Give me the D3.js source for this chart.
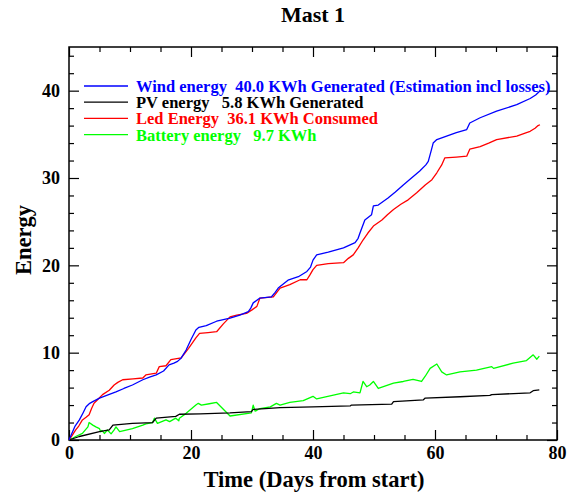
<!DOCTYPE html>
<html>
<head>
<meta charset="utf-8">
<script src="https://cdn.jsdelivr.net/npm/d3@7"></script>
<style>
  body { margin: 0; background: #fff; }
  text { font-family: "Liberation Serif", "DejaVu Serif", serif; font-weight: bold; }
</style>
</head>
<body>
<div id="chart"></div>
<script>
// series as [day, kWh] pairs
const windEnergy = [[0,0],[0.5,0.8],[1,1.6],[1.7,2.3],[2.3,3.1],[2.8,3.8],[3.4,4.2],[3.9,4.4],[5,4.8],[6.5,5.2],[7.7,5.5],[9,5.9],[10.4,6.3],[12.1,6.9],[13.2,7.2],[14.3,7.45],[15.5,7.9],[16.4,8.6],[17.2,8.8],[17.8,9.0],[18.4,9.4],[19.2,10.3],[20,11.5],[20.8,12.6],[21.3,12.9],[22.5,13.1],[24.2,13.6],[26.4,13.95],[28,14.3],[29.4,14.7],[29.8,15.1],[30.2,15.7],[31.3,16.25],[33.2,16.4],[33.8,16.9],[34.3,17.4],[35.9,18.3],[37.6,18.7],[39,19.3],[39.6,19.8],[40,20.6],[40.6,21.2],[42.5,21.5],[45,22.0],[46.9,22.6],[47.4,23.1],[47.7,23.7],[48.5,25.2],[49.6,25.8],[49.9,26.8],[50.7,26.9],[52.3,27.7],[53.5,28.4],[54.8,29.2],[56,29.9],[57.5,30.8],[58.5,31.5],[58.9,31.9],[59.4,33.2],[59.7,34.0],[60.3,34.4],[61.9,34.8],[63.5,35.2],[65.2,35.55],[65.7,36.3],[67.4,36.9],[70.1,37.65],[73.4,38.4],[75.6,39.1],[76.5,39.5],[77.2,39.95],[77.4,40.0]];

const pvEnergy = [[0,0],[1.7,0.4],[5,0.95],[6.6,1.15],[7.2,1.7],[10.4,1.9],[13.7,2.0],[14.3,2.5],[17.5,2.7],[18.1,2.95],[21.5,3.0],[26.4,3.1],[29.9,3.25],[30.2,3.5],[34.6,3.7],[40,3.8],[46.1,3.9],[46.3,4.0],[52.9,4.1],[53.2,4.4],[58.1,4.6],[58.4,4.8],[64.1,4.95],[69,5.1],[69.3,5.2],[75.6,5.4],[76.1,5.65],[77.1,5.75]];

const ledEnergy = [[0,0],[0.5,0.5],[1.1,1.15],[1.6,1.6],[2.2,2.3],[2.8,2.6],[3.3,2.9],[3.7,3.6],[4.1,4.2],[4.8,4.7],[5.5,5.2],[6.6,5.7],[7.4,6.3],[8.0,6.6],[8.8,6.9],[10.5,7.0],[12.1,7.1],[12.6,7.45],[14.3,7.65],[14.8,8.4],[15.9,8.5],[16.7,9.2],[18.4,9.4],[19.6,10.5],[20.8,11.7],[21.4,12.2],[22.8,12.3],[24.2,12.4],[25.3,13.3],[26.4,14.1],[27.5,14.3],[29.1,14.5],[30.0,14.9],[30.8,15.3],[31.3,16.25],[33.5,16.4],[34.6,17.4],[36.2,17.8],[37.9,18.35],[39.0,18.35],[39.5,18.9],[40,19.5],[40.6,20.0],[42.5,20.2],[45,20.3],[45.8,20.8],[46.6,21.2],[47.4,22.0],[48.2,22.9],[49.0,23.7],[49.9,24.5],[51.3,25.2],[52.2,25.8],[53.2,26.4],[54.4,27.0],[55.6,27.5],[57,28.3],[58.4,29.2],[59.5,29.8],[60.3,30.6],[61.1,31.5],[61.6,32.3],[63.5,32.4],[65.2,32.5],[65.7,33.3],[67.4,33.6],[68.8,34.0],[70.1,34.4],[73.4,34.8],[75,35.2],[75.6,35.35],[76.4,35.7],[76.9,36.0],[77.2,36.1]];

const batteryEnergy = [[0,0],[0.6,0.2],[1.1,0.4],[2.2,0.75],[3.1,1.5],[3.3,2.0],[3.9,1.7],[4.4,1.5],[5.0,1.3],[5.2,0.95],[5.4,1.1],[5.8,0.75],[6.3,1.15],[6.9,0.7],[7.4,1.15],[7.7,1.5],[8.3,0.95],[10.4,1.3],[12.1,1.7],[12.6,1.85],[13.7,2.0],[14,2.5],[14.5,1.9],[15.9,2.3],[16.5,2.1],[17.5,2.5],[18,2.2],[18.1,2.5],[19.2,3.05],[20.8,4.0],[21.2,4.2],[21.7,4.0],[23,4.15],[24.2,4.3],[26.4,2.75],[29.9,3.1],[30.2,4.0],[30.5,3.3],[30.8,3.4],[31.3,3.6],[33,3.8],[34,4.2],[34.6,4.0],[36.2,4.3],[38.4,4.5],[40,5.0],[40.6,4.7],[45,5.4],[46.1,5.3],[46.6,5.5],[47.7,5.4],[48.2,6.7],[48.8,6.1],[49.3,6.3],[49.9,6.7],[50.7,5.9],[53.2,6.5],[54.8,6.7],[56.4,6.95],[57.8,6.7],[58.4,7.3],[59.2,8.2],[60.3,8.7],[61.1,7.8],[61.9,7.45],[64.1,7.8],[66.8,8.0],[69.3,8.4],[69.6,8.2],[72.8,8.8],[75,9.1],[76.1,9.75],[76.7,9.25],[77.1,9.6]];

const seriesNames = ["Wind energy  40.0 KWh Generated (Estimation incl losses)", "PV energy   5.8 KWh Generated", "Led Energy  36.1 KWh Consumed", "Battery energy   9.7 KWh"];
const seriesColors = ["#0000ff", "#000000", "#ff0000", "#00ff00"];
const seriesData = [windEnergy, pvEnergy, ledEnergy, batteryEnergy];

const xMajorTicks = [0, 20, 40, 60, 80];
const yMajorTicks = [0, 10, 20, 30, 40];

const width = 570, height = 493;
const plotLeft = 69, plotRight = 557, plotTop = 47, plotBottom = 440;

const svg = d3.select("#chart").append("svg")
    .attr("width", width)
    .attr("height", height);

const x = d3.scaleLinear().domain([0, 80]).range([plotLeft, plotRight]);
const y = d3.scaleLinear().domain([0, 45]).range([plotBottom, plotTop]);

const xMinor = d3.range(0, 81, 5).filter(d => d % 20 != 0);
const yMinor = d3.range(0, 45, 2).filter(d => d % 10 != 0);

function styleAxis(g) {
    g.select(".domain").remove();
    g.selectAll("line").attr("stroke", "#000").attr("stroke-width", 1.2);
    g.selectAll("text").attr("fill", "#000").style("font-size", "18px")
        .style("font-family", '"Liberation Serif", serif').style("font-weight", "bold");
}

// bottom
svg.append("g").attr("transform", `translate(0,${plotBottom})`)
    .call(d3.axisBottom(x).tickValues(xMajorTicks).tickSize(-10).tickPadding(6).tickFormat(d3.format("d")))
    .call(styleAxis);
svg.append("g").attr("transform", `translate(0,${plotBottom})`)
    .call(d3.axisBottom(x).tickValues(xMinor).tickSize(-5).tickFormat(""))
    .call(styleAxis);
// top
svg.append("g").attr("transform", `translate(0,${plotTop})`)
    .call(d3.axisTop(x).tickValues(xMajorTicks).tickSize(-10).tickFormat(""))
    .call(styleAxis);
svg.append("g").attr("transform", `translate(0,${plotTop})`)
    .call(d3.axisTop(x).tickValues(xMinor).tickSize(-5).tickFormat(""))
    .call(styleAxis);
// left
svg.append("g").attr("transform", `translate(${plotLeft},0)`)
    .call(d3.axisLeft(y).tickValues(yMajorTicks).tickSize(-10).tickPadding(9).tickFormat(d3.format("d")))
    .call(styleAxis);
svg.append("g").attr("transform", `translate(${plotLeft},0)`)
    .call(d3.axisLeft(y).tickValues(yMinor).tickSize(-5).tickFormat(""))
    .call(styleAxis);
// right
svg.append("g").attr("transform", `translate(${plotRight},0)`)
    .call(d3.axisRight(y).tickValues(yMajorTicks).tickSize(-10).tickFormat(""))
    .call(styleAxis);
svg.append("g").attr("transform", `translate(${plotRight},0)`)
    .call(d3.axisRight(y).tickValues(yMinor).tickSize(-5).tickFormat(""))
    .call(styleAxis);

svg.append("rect")
    .attr("x", plotLeft).attr("y", plotTop)
    .attr("width", plotRight - plotLeft).attr("height", plotBottom - plotTop)
    .attr("fill", "none").attr("stroke", "#000").attr("stroke-width", 1.5);

const line = d3.line().x(d => x(d[0])).y(d => y(d[1]));

// draw battery first so wind sits on top like the original
[3, 1, 2, 0].forEach(i => {
    svg.append("path")
        .datum(seriesData[i])
        .attr("d", line)
        .attr("fill", "none")
        .attr("stroke", seriesColors[i])
        .attr("stroke-width", 1.3)
        .attr("stroke-linejoin", "round");
});

// legend
const legend = svg.append("g");
seriesNames.forEach((name, i) => {
    const ly = 86 + i * 16.2;
    legend.append("line")
        .attr("x1", 84).attr("x2", 128)
        .attr("y1", ly).attr("y2", ly)
        .attr("stroke", seriesColors[i]).attr("stroke-width", 1.3);
    legend.append("text")
        .attr("x", 136).attr("y", ly + 6)
        .attr("fill", seriesColors[i])
        .style("font-size", "16.5px")
        .style("white-space", "pre")
        .text(name);
});

// title and axis labels
svg.append("text")
    .attr("x", (plotLeft + plotRight) / 2).attr("y", 22)
    .attr("text-anchor", "middle")
    .style("font-size", "22px")
    .text("Mast 1");

svg.append("text")
    .attr("x", (plotLeft + plotRight) / 2 + 1).attr("y", 487)
    .attr("text-anchor", "middle")
    .style("font-size", "22.5px")
    .text("Time (Days from start)");

svg.append("text")
    .attr("transform", `translate(31,240) rotate(-90)`)
    .attr("text-anchor", "middle")
    .style("font-size", "22.5px")
    .text("Energy");
</script>
</body>
</html>
